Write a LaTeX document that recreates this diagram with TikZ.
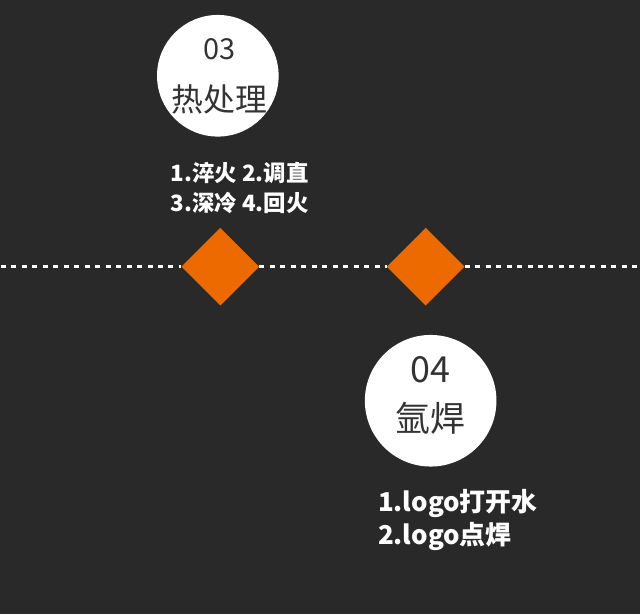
\documentclass[tikz,border=0pt]{standalone}
\usepackage{fontspec}
\setmainfont{Noto Sans CJK SC}
\usetikzlibrary{shapes.geometric,calc,positioning}
\definecolor{bgdark}{RGB}{41,41,41}
\definecolor{orangemark}{RGB}{236,106,0}
\definecolor{inkgray}{RGB}{51,51,51}
\tikzset{
    x=1pt, y=1pt,
    stage/.style = {circle, fill=white, inner sep=0pt},
    gem/.style = {diamond, fill=orangemark, inner sep=0pt, minimum width=78pt, minimum height=78pt},
    num/.style = {text=inkgray, inner sep=0pt},
    notes/.style = {text=white, align=left, anchor=west, inner sep=0pt},
    timeline/.style = {white, line width=2.4pt, dash pattern=on 5pt off 5.5pt}
}

\begin{document}
\begin{tikzpicture}
  \fill[bgdark] (-1, -1) rectangle (641, 615);
  \useasboundingbox (0, 0) rectangle (640, 614);

  % timeline
  \coordinate (lft) at (0, 347.5);
  \coordinate (rgt) at (640, 347.5);

  \node[gem] (d3) at (220, 347.5) {};

  \node[gem] (d4) at (426, 347.5) {};

  \draw[timeline] (lft) -- (d3.west) (d3.east) -- (d4.west) (d4.east) -- (rgt);

  % step 03
  \node[stage, minimum size=122pt] (c3) at (217.5, 539) {};

  \node[num, font=\fontsize{29}{29}\selectfont] (n3) at ($(c3)+(1.5, 27)$) {03};

  \node[num, font=\fontsize{32}{32}\selectfont] (t3) at ($(c3)+(1.5, -24)$) {热处理};

  \node[notes, font=\fontsize{22.5}{30}\selectfont\bfseries] (s3) at (170, 426.5) {1.淬火 2.调直\\3.深冷 4.回火};

  % step 04
  \node[stage, minimum size=132pt] (c4) at (431, 213) {};

  \node[num, font=\fontsize{36}{36}\selectfont] (n4) at ($(c4)+(0, 31.5)$) {04};

  \node[num, font=\fontsize{35}{35}\selectfont] (t4) at ($(c4)+(0, -18)$) {氩焊};

  \node[notes, font=\fontsize{26}{33}\selectfont\bfseries] (s4) at (378, 93) {1.logo打开水\\2.logo点焊};
\end{tikzpicture}
\end{document}
